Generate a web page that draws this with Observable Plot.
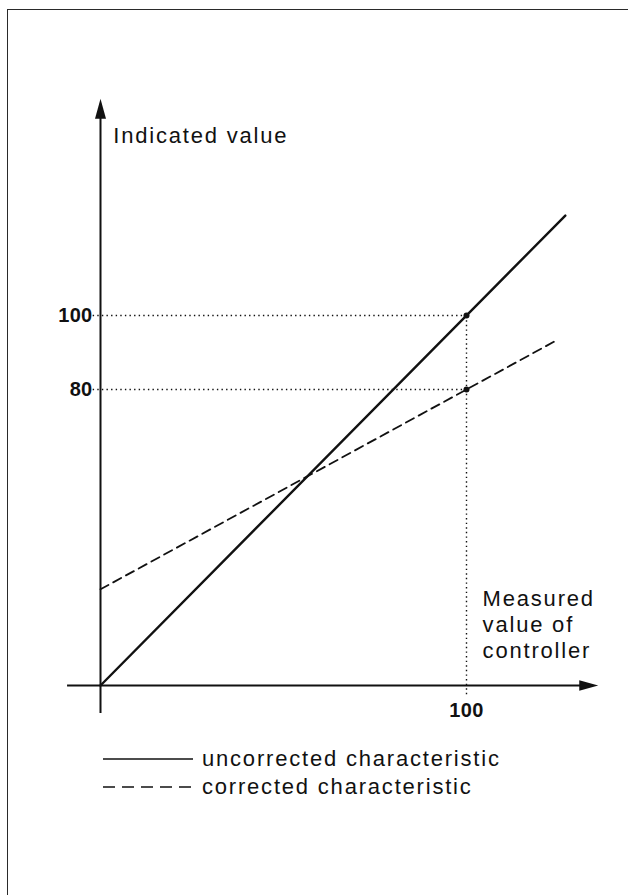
<!DOCTYPE html>
<html>
<head>
<meta charset="utf-8">
<script src="https://cdn.jsdelivr.net/npm/d3@7"></script>
<script src="https://cdn.jsdelivr.net/npm/@observablehq/plot@0.6"></script>
<style>
  html, body { margin:0; padding:0; background:#fff; }
  body { width:628px; height:895px; position:relative; overflow:hidden; font-family:"Liberation Sans", Arial, sans-serif; }
  #frame { position:absolute; left:7px; top:9px; width:700px; height:1000px; border-top:1.5px solid #2a2a2a; border-left:1.5px solid #2a2a2a; }
  #chart { position:absolute; left:0; top:0; }
  #legend { position:absolute; left:103px; top:745px; font-size:22px; letter-spacing:1.8px; color:#111; }
  #legend .row { display:flex; align-items:center; height:28px; }
  #legend svg { margin-right:9px; }
</style>
</head>
<body>
<div id="frame"></div>
<div id="chart"></div>
<div id="legend"></div>
<script>
// ---- data ----
const xTicks = [100];
const yTicks = [80, 100];
const uncorrected = [{x: 0, y: 0}, {x: 127, y: 127}];
const corrected = [{x: 0, y: 26}, {x: 125, y: 93.5}];
const refPoints = [{x: 100, y: 100}, {x: 100, y: 80}];
const xAxisExtent = [-9, 136];   // axis line from .. to arrow tip
const yAxisExtent = [-7.6, 158.6];
const yLabel = "Indicated value";
const xLabel = "Measured\nvalue of\ncontroller";
const legendLabels = ["uncorrected characteristic", "corrected characteristic"];

// arrowhead symbol: tip at the anchor point, base below
const arrowHead = {
  draw(ctx, size) {
    const r = Math.sqrt(size / Math.PI);
    ctx.moveTo(0, 0);
    ctx.lineTo(r * 0.55, r * 2);
    ctx.lineTo(-r * 0.55, r * 2);
    ctx.closePath();
  }
};

const ink = "#111";
const chart = Plot.plot({
  width: 628,
  height: 740,
  marginLeft: 100,
  marginBottom: 55,
  marginTop: 0,
  marginRight: 0,
  style: {fontFamily: "'Liberation Sans', Arial, sans-serif", letterSpacing: "1.8px", color: ink, background: "transparent", overflow: "visible"},
  x: {domain: [0, 100], range: [100, 466]},
  y: {domain: [0, 100], range: [685, 315]},
  marks: [
    // dotted guide lines
    Plot.ruleY(yTicks, {y: d => d, x1: -2, x2: 100, stroke: ink, strokeWidth: 1.4, strokeDasharray: "1.4,3.2"}),
    Plot.ruleX(xTicks, {x: d => d, y1: -2.5, y2: 100, stroke: ink, strokeWidth: 1.4, strokeDasharray: "1.4,3.2"}),
    // axes lines
    Plot.ruleY([0], {x1: xAxisExtent[0], x2: xAxisExtent[1] - 4, stroke: ink, strokeWidth: 2}),
    Plot.ruleX([0], {y1: yAxisExtent[0], y2: yAxisExtent[1] - 4, stroke: ink, strokeWidth: 2}),
    Plot.dot([{x: xAxisExtent[1], y: 0}], {x: "x", y: "y", symbol: arrowHead, r: 9.5, fill: ink, stroke: null, rotate: 90}),
    Plot.dot([{x: 0, y: yAxisExtent[1]}], {x: "x", y: "y", symbol: arrowHead, r: 10, fill: ink, stroke: null}),
    // characteristics
    Plot.line(corrected, {x: "x", y: "y", stroke: ink, strokeWidth: 1.8, strokeDasharray: "9,5.5"}),
    Plot.line(uncorrected, {x: "x", y: "y", stroke: ink, strokeWidth: 2.4}),
    Plot.dot(refPoints, {x: "x", y: "y", r: 3, fill: ink, stroke: null}),
    // tick labels
    Plot.axisY(yTicks, {tickSize: 0, tickPadding: 8, fontSize: 20, fontWeight: "bold", letterSpacing: 0, label: null}),
    Plot.axisX(xTicks, {tickSize: 0, tickPadding: 17, fontSize: 20, fontWeight: "bold", label: null}),
    // axis titles
    Plot.text([yLabel], {x: 3.5, y: 148.4, text: d => d, textAnchor: "start", fontSize: 22, fill: ink}),
    Plot.text([xLabel], {x: 104.4, y: 16.7, text: d => d, textAnchor: "start", fontSize: 22, lineHeight: 1.17, fill: ink})
  ]
});
document.getElementById("chart").appendChild(chart);
chart.querySelectorAll("[aria-label^='y-axis'] text, [aria-label^='x-axis'] text").forEach(t => t.style.letterSpacing = "0.3px");

// legend (below the plot area)
const legend = d3.select("#legend");
const dashes = [null, "12,7"];
legendLabels.forEach((label, i) => {
  const row = legend.append("div").attr("class", "row");
  const s = row.append("svg").attr("width", 90).attr("height", 10);
  s.append("line").attr("x1", 0).attr("x2", 90).attr("y1", 5).attr("y2", 5)
    .attr("stroke", ink).attr("stroke-width", 1.6)
    .attr("stroke-dasharray", dashes[i]);
  row.append("span").text(label);
});
</script>
</body>
</html>
